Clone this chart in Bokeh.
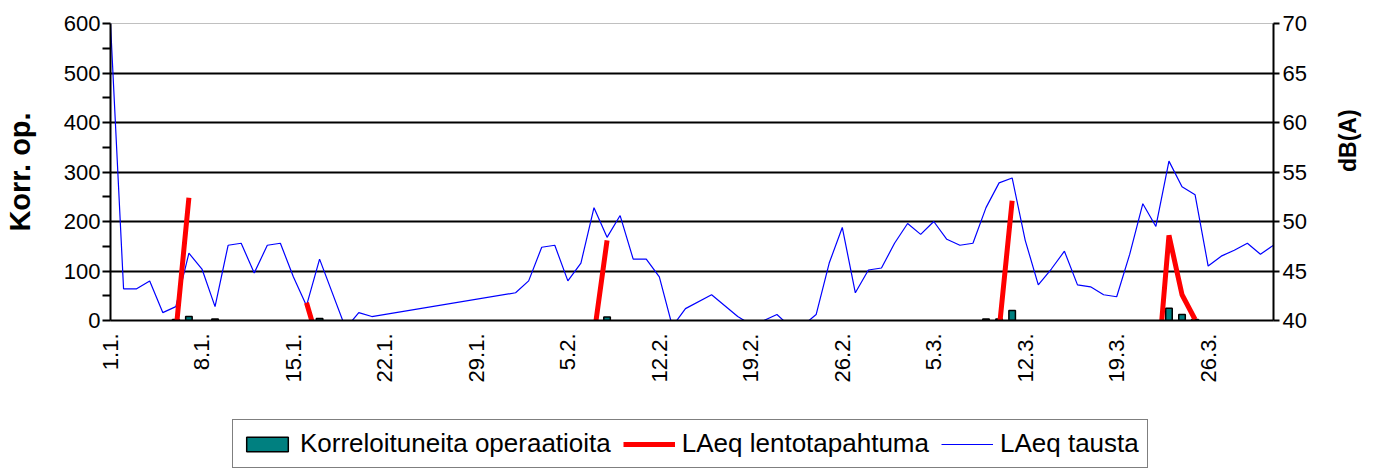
import math
import numpy as np
from bokeh.plotting import figure
from bokeh.layouts import column
from bokeh.models import Range1d, LinearAxis, FixedTicker, Legend, LegendItem
from bokeh.embed import file_html
from bokeh.resources import INLINE

nan = float("nan")

# x tick labels (one per week, days counted from 1.1.)
tick_labels = ["1.1.", "8.1.", "15.1.", "22.1.", "29.1.", "5.2.", "12.2.",
               "19.2.", "26.2.", "5.3.", "12.3.", "19.3.", "26.3."]
tick_days = [0, 7, 14, 21, 28, 35, 42, 49, 56, 63, 70, 77, 84]

# LAeq tausta (background), dB(A)
bg_day = [0, 1, 2, 3, 4, 5, 6, 7, 8, 9, 10, 11, 12, 13, 14, 15, 16, 18, 19, 20,
          31, 32, 33, 34, 35, 36, 37, 38, 39, 40, 41, 42, 43, 44, 46, 48, 49, 50,
          51, 52, 53, 54, 55, 56, 57, 58, 59, 60, 61, 62, 63, 64, 65, 66, 67, 68,
          69, 70, 71, 72, 73, 74, 75, 76, 77, 78, 79, 80, 81, 82, 83, 84, 85, 86,
          87, 88, 89]
bg_val = [70.0, 43.2, 43.2, 44.0, 40.8, 41.4, 46.8, 45.2, 41.4, 47.6, 47.8, 44.8,
          47.6, 47.8, 44.4, 41.5, 46.2, 39.2, 40.8, 40.4,
          42.8, 44.0, 47.4, 47.6, 44.0, 45.8, 51.4, 48.4, 50.6, 46.2, 46.2, 44.4,
          39.4, 41.2, 42.6, 40.4, 39.6, 40.0,
          40.6, 39.4, 39.5, 40.6, 45.8, 49.4, 42.8, 45.1, 45.3, 47.8, 49.8, 48.7,
          50.0, 48.2, 47.6, 47.8, 51.4, 53.9,
          54.4, 48.1, 43.6, 45.2, 47.0, 43.6, 43.4, 42.6, 42.4, 46.7, 51.8, 49.5,
          56.1, 53.5, 52.7, 45.5, 46.5, 47.1,
          47.8, 46.7, 47.6]

# LAeq lentotapahtuma (aircraft events), dB(A); nan = gap
ev_day = [5, 6, nan, 15, 16, nan, 37, 38, nan, 68, 69, nan, 80, 81, 82, 83]
ev_val = [38.8, 52.4, nan, 41.8, 37.3, nan, 38.5, 48.1, nan, 39.0, 52.1, nan,
          33.0, 48.6, 42.6, 40.1]

# Korreloituneita operaatioita (count)
ops_day = [5, 6, 8, 16, 38, 67, 68, 69, 81, 82, 83]
ops_val = [2, 8, 3, 4, 7, 3, 3, 20, 25, 12, 2]

FONT = "Liberation Sans"
TEAL = "#008080"
RED = "#FF0000"
BLUE = "#0000FF"

p = figure(width=1376, height=400, output_backend="svg", toolbar_location=None,
           x_range=Range1d(0, 89), y_range=Range1d(0, 600),
           min_border_left=110, min_border_right=102, min_border_top=23,
           min_border_bottom=80)
p.extra_y_ranges = {"db": Range1d(40, 70)}
p.background_fill_color = "white"
p.border_fill_color = "white"
p.outline_line_color = "#c0c0c0"
p.outline_line_width = 1

# grid
p.xgrid.visible = False
p.ygrid.ticker = FixedTicker(ticks=[100, 200, 300, 400, 500])
p.ygrid.grid_line_color = "black"
p.ygrid.grid_line_width = 2

# left axis
ya = p.yaxis[0]
ya.ticker = FixedTicker(ticks=list(range(0, 601, 100)),
                        minor_ticks=list(range(50, 600, 100)))
ya.axis_label = "Korr. op."
ya.axis_label_text_font = FONT
ya.axis_label_text_font_style = "bold"
ya.axis_label_text_font_size = "29px"
ya.axis_label_text_color = "black"
ya.axis_label_standoff = 25
ya.major_label_text_font = FONT
ya.major_label_text_font_size = "22px"
ya.major_label_text_color = "black"
ya.major_label_standoff = 2
ya.axis_line_color = "black"
ya.axis_line_width = 2
ya.major_tick_out = 8
ya.major_tick_in = 0
ya.minor_tick_out = 8
ya.minor_tick_in = 0
ya.major_tick_line_width = 2
ya.minor_tick_line_width = 2

# right axis
ra = LinearAxis(y_range_name="db", ticker=FixedTicker(ticks=list(range(40, 71, 5))))
ra.axis_label = "dB(A)"
ra.axis_label_text_font = FONT
ra.axis_label_text_font_style = "bold"
ra.axis_label_text_font_size = "23px"
ra.axis_label_text_color = "black"
ra.axis_label_standoff = 38
ra.axis_label_orientation = math.pi / 2
ra.major_label_text_font = FONT
ra.major_label_text_font_size = "22px"
ra.major_label_text_color = "black"
ra.major_label_standoff = 3
ra.axis_line_color = "black"
ra.axis_line_width = 2
ra.major_tick_out = 6
ra.major_tick_in = 0
ra.minor_tick_out = 0
ra.minor_tick_in = 0
ra.major_tick_line_width = 2
p.add_layout(ra, "right")

# x axis
xa = p.xaxis[0]
xa.ticker = FixedTicker(ticks=tick_days)
xa.major_label_overrides = {d: l for d, l in zip(tick_days, tick_labels)}
xa.major_label_orientation = math.pi / 2
xa.major_label_text_font = FONT
xa.major_label_text_font_size = "22px"
xa.major_label_text_color = "black"
xa.major_label_standoff = 13
xa.axis_line_color = "black"
xa.axis_line_width = 2
xa.major_tick_out = 0
xa.major_tick_in = 0
xa.minor_tick_out = 0
xa.minor_tick_in = 0

# glyphs
bar_style = dict(fill_color=TEAL, line_color="black", line_width=1.5)
bg_style = dict(line_color=BLUE, line_width=1.2)
ev_style = dict(line_color=RED, line_width=5)

p.vbar(x=ops_day, top=ops_val, width=0.5, bottom=0, **bar_style)
p.line(bg_day, bg_val, y_range_name="db", **bg_style)
p.line(ev_day, ev_val, y_range_name="db", **ev_style)

# legend strip below the chart (hidden copies of the series give the swatches)
q = figure(width=1376, height=69, output_backend="svg", toolbar_location=None,
           x_range=Range1d(-3, -2), y_range=Range1d(-3, -2),
           x_axis_type=None, y_axis_type=None,
           min_border_left=0, min_border_right=0, min_border_top=0,
           min_border_bottom=0)
q.outline_line_color = None
q.background_fill_color = "white"
q.border_fill_color = "white"
lb = q.vbar(x=ops_day, top=ops_val, width=0.5, bottom=0, visible=False, **bar_style)
le = q.line(ev_day, ev_val, visible=False, **ev_style)
lt = q.line(bg_day, bg_val, visible=False, **bg_style)

legend = Legend(items=[
    LegendItem(label="Korreloituneita operaatioita", renderers=[lb]),
    LegendItem(label="LAeq lentotapahtuma", renderers=[le]),
    LegendItem(label="LAeq tausta", renderers=[lt]),
], orientation="horizontal", location=(122, 1))
legend.label_text_font = FONT
legend.label_text_font_size = "26px"
legend.label_text_color = "black"
legend.label_height = 30
legend.glyph_width = 52
legend.glyph_height = 18
legend.label_standoff = 7
legend.spacing = 12
legend.padding = 8
legend.margin = 0
legend.border_line_color = "black"
legend.border_line_width = 1.5
legend.background_fill_color = "white"
legend.background_fill_alpha = 1
q.add_layout(legend, "center")

layout = column(p, q, spacing=0)
open("out.html", "w").write(file_html(layout, INLINE))
